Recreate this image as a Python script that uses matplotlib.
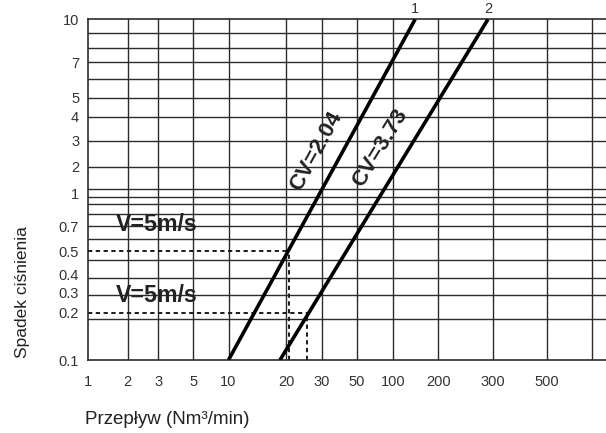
import numpy as np
import matplotlib
matplotlib.use("Agg")
import matplotlib.pyplot as plt

plt.rcParams['font.family'] = ['Liberation Sans', 'DejaVu Sans']

# axis tick values (the chart uses an uneven, hand drawn grid)
x_ticks = [1, 2, 3, 5, 10, 20, 30, 50, 100, 200, 300, 500, 1000]
x_labels = ['1', '2', '3', '5', '10', '20', '30', '50', '100', '200', '300', '500', '']
y_ticks = [0.1, 0.2, 0.3, 0.4, 0.5, 0.7, 1, 2, 3, 4, 5, 7, 10]
y_labels = ['0.1', '0.2', '0.3', '0.4', '0.5', '0.7', '1', '2', '3', '4', '5', '7', '10']
y_grid = [0.182, 0.288, 0.378, 0.458, 0.587, 0.7, 0.794, 0.885, 0.96, 1.11,
          2, 3, 4, 5, 6, 7, 7.9, 8.9]

# valve curves: flow (Nm3/min) vs pressure drop
cv1_flow = [10, 140]
cv1_dp = [0.1, 10]
cv2_flow = [18.6, 290]
cv2_dp = [0.1, 10]

# V=5m/s reading lines
read_dp = [0.5, 0.2]
read_flow = [20.7, 25.5]

# layout of the uneven scales (pixel positions of the grid in the drawing)
x_pix = [87.5, 127.7, 158.3, 193.3, 228.5, 286, 321.7, 356.7, 393.3, 438.3, 492.5, 547, 591.7, 636.4]
x_anchor = x_ticks + [2000]
y_h = [0, 47, 67, 86, 109, 134, 167, 193.3, 219.3, 243.3, 262.3, 297.7, 340.7]


def make_scale(vals, pos):
    lv = np.log10(vals)
    pos = np.asarray(pos, float)

    def fwd(v):
        v = np.clip(np.asarray(v, float), 1e-6, None)
        return np.interp(np.log10(v), lv, pos)

    def inv(p):
        return 10 ** np.interp(p, pos, lv)
    return fwd, inv


xf, xi = make_scale(x_anchor, x_pix)
yf, yi = make_scale(y_ticks, y_h)

W, H = 606, 433
fig = plt.figure(figsize=(W / 100, H / 100), dpi=100)
ax = fig.add_axes([87.5 / W, 1 - 360 / H, (W - 87.5) / W, 340.7 / H])
ax.set_xscale('function', functions=(xf, xi))
ax.set_yscale('function', functions=(yf, yi))
ax.set_xlim(1, xi(606.0))
ax.set_ylim(0.1, 10)

gc = '#2b2b2b'
for v in x_ticks[1:]:
    ax.axvline(v, color=gc, lw=1.0, zorder=1)
for v in y_grid:
    ax.axhline(v, color=gc, lw=1.0, zorder=1)

ax.set_xticks(x_ticks, x_labels)
ax.set_yticks(y_ticks, y_labels)
ax.xaxis.set_minor_locator(matplotlib.ticker.NullLocator())
ax.yaxis.set_minor_locator(matplotlib.ticker.NullLocator())
ax.tick_params(length=0, labelsize=10.5, colors='#333333')
ax.tick_params(axis='x', pad=11)
ax.tick_params(axis='y', pad=6)
for s in ['left', 'top', 'bottom']:
    ax.spines[s].set_color(gc)
    ax.spines[s].set_linewidth(1.2)
ax.spines['right'].set_visible(False)

# reading lines
for f, d in zip(read_flow, read_dp):
    ax.plot([1, f], [d, d], color='#1a1a1a', lw=1.4, ls=(0, (2.2, 1.8)), zorder=2)
    ax.plot([f, f], [0.1, d], color='#1a1a1a', lw=1.4, ls=(0, (2.2, 1.8)), zorder=2)

ax.plot(cv1_flow, cv1_dp, color='black', lw=2.6, zorder=3, solid_capstyle='butt')
ax.plot(cv2_flow, cv2_dp, color='black', lw=2.6, zorder=3, solid_capstyle='butt')

ax.annotate('1', (cv1_flow[1], 10), xytext=(0, 4.5), textcoords='offset points',
            ha='center', va='baseline', fontsize=10.5, color='#333333', annotation_clip=False)
ax.annotate('2', (cv2_flow[1], 10), xytext=(0, 4.5), textcoords='offset points',
            ha='center', va='baseline', fontsize=10.5, color='#333333', annotation_clip=False)


def line_angle(fl, dp):
    p = ax.transData.transform(np.column_stack([fl, dp]))
    return np.degrees(np.arctan2(p[1, 1] - p[0, 1], p[1, 0] - p[0, 0]))


bold = dict(fontweight='bold', family=['Liberation Sans', 'DejaVu Sans'], color='#222222')
ax.text(28.3, 2.55, 'CV=2.04', rotation=line_angle(cv1_flow, cv1_dp), rotation_mode='anchor',
        ha='center', va='center', fontsize=16, zorder=4, **bold)
ax.text(77.5, 2.68, 'CV=3.73', rotation=line_angle(cv2_flow, cv2_dp), rotation_mode='anchor',
        ha='center', va='center', fontsize=16, zorder=4, **bold)
ax.text(1.63, 0.715, 'V=5m/s', ha='left', va='center', fontsize=16.7, zorder=4, **bold)
ax.text(1.63, 0.283, 'V=5m/s', ha='left', va='center', fontsize=16.7, zorder=4, **bold)

lab = dict(family=['Liberation Sans', 'DejaVu Sans'], color='#222222')
fig.text(23 / W, 1 - 292 / H, 'Spadek ciśnienia', rotation=90, ha='center', va='center',
         fontsize=12.5, **lab)
fig.text(85 / W, 1 - 420 / H, 'Przepływ (Nm³/min)', ha='left', va='center', fontsize=13.5, **lab)

fig.savefig('out.png', dpi=100)
